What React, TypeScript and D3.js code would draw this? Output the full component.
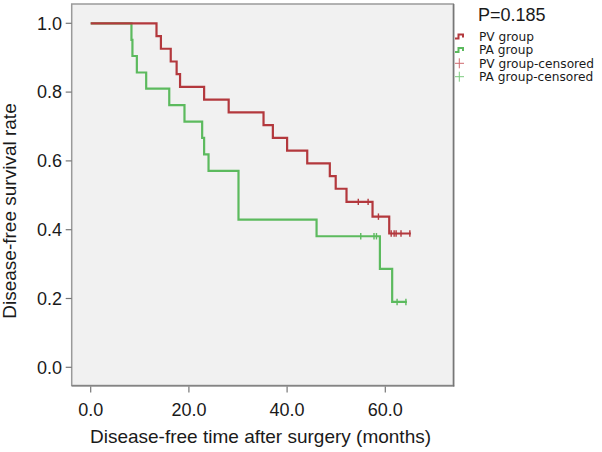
import React from "react";
import * as d3 from "d3";

const pvTimes = [0, 13.4, 14.3, 16.3, 17.5, 18.2, 23.1, 28.1, 35.2, 37.1, 40.0, 44.1, 48.7, 49.9, 52.1, 57.4, 60.8, 65.2];
const pvSurv = [1.0, 0.963, 0.926, 0.889, 0.852, 0.815, 0.778, 0.741, 0.704, 0.667, 0.630, 0.593, 0.556, 0.519, 0.481, 0.438, 0.389, 0.389];
const pvCensorTimes = [54.5, 56.5, 58.6, 61.2, 61.8, 62.2, 63.2, 65.0];
const pvCensorSurv = [0.481, 0.481, 0.438, 0.389, 0.389, 0.389, 0.389, 0.389];

const paTimes = [0, 8.3, 8.5, 9.4, 11.3, 16.0, 19.1, 22.7, 23.1, 24.0, 30.1, 46.0, 58.9, 61.4, 64.4];
const paSurv = [1.0, 0.952, 0.905, 0.857, 0.810, 0.762, 0.714, 0.667, 0.619, 0.571, 0.429, 0.381, 0.286, 0.190, 0.190];
const paCensorTimes = [55.0, 57.7, 58.2, 62.4, 64.2];
const paCensorSurv = [0.381, 0.381, 0.381, 0.190, 0.190];

const xTicks = [0, 20, 40, 60];
const yTicks = [0, 0.2, 0.4, 0.6, 0.8, 1.0];
const legendLabels = ["PV group", "PA group", "PV group-censored", "PA group-censored"];
const pValueLabel = "P=0.185";
const xTitle = "Disease-free time after surgery (months)";
const yTitle = "Disease-free survival rate";

const RED = "#b3383d";
const GREEN = "#5cba5e";
const RED_LIGHT = "#cf6a6e";
const GREEN_LIGHT = "#7ccb7e";
const FONT = "'Liberation Sans', Arial, Helvetica, sans-serif";
const LEGEND_FONT = "'DejaVu Sans', 'Liberation Sans', sans-serif";

export default function App() {
  const W = 602, H = 452;
  const frame = { left: 71.7, right: 453.3, top: 4, bottom: 385.5 };
  const x = d3.scaleLinear().domain([0, 60]).range([90.7, 385.3]);
  const y = d3.scaleLinear().domain([0, 1]).range([367.3, 23.3]);

  const line = d3
    .line<[number, number]>()
    .x((d) => x(d[0]))
    .y((d) => y(d[1]))
    .curve(d3.curveStepAfter);

  const pvPts: [number, number][] = pvTimes.map((t, i) => [t, pvSurv[i]]);
  const paPts: [number, number][] = paTimes.map((t, i) => [t, paSurv[i]]);

  const censor = (times: number[], surv: number[], color: string) =>
    times.map((t, i) => (
      <line key={i} x1={x(t)} x2={x(t)} y1={y(surv[i]) - 3.2} y2={y(surv[i]) + 3.2} stroke={color} strokeWidth={1.4} />
    ));

  const legendX = 455;
  const rows = [36.5, 50, 63.3, 76.7];

  return (
    <svg width={W} height={H} style={{ position: "absolute", left: 0, top: 0, background: "#fff" }} fontFamily={FONT}>
      <rect x={0} y={0} width={W} height={H} fill="#ffffff" />
      <rect
        x={frame.left}
        y={frame.top}
        width={frame.right - frame.left}
        height={frame.bottom - frame.top}
        fill="#f1f1f1"
        stroke="#9a9a9a"
        strokeWidth={1.5}
      />
      <line x1={frame.right + 0.5} x2={frame.right + 0.5} y1={frame.top} y2={frame.bottom + 1} stroke="#6e6e6e" strokeWidth={1.2} />
      <line x1={frame.left} x2={frame.right + 1} y1={frame.bottom + 0.5} y2={frame.bottom + 0.5} stroke="#6e6e6e" strokeWidth={1.2} />

      {yTicks.map((t) => (
        <g key={"y" + t}>
          <line x1={frame.left - 6} x2={frame.left} y1={y(t)} y2={y(t)} stroke="#777" strokeWidth={1.2} />
          <text x={62} y={y(t)} dy="0.35em" textAnchor="end" fontSize={18} fill="#1a1a1a">
            {t.toFixed(1)}
          </text>
        </g>
      ))}
      {xTicks.map((t) => (
        <g key={"x" + t}>
          <line x1={x(t)} x2={x(t)} y1={frame.bottom + 1} y2={frame.bottom + 7} stroke="#777" strokeWidth={1.2} />
          <text x={x(t)} y={415.5} textAnchor="middle" fontSize={18} fill="#1a1a1a">
            {t.toFixed(1)}
          </text>
        </g>
      ))}

      <text x={260.5} y={443} textAnchor="middle" fontSize={19} fill="#1a1a1a">
        {xTitle}
      </text>
      <text transform={`translate(16, 211) rotate(-90)`} textAnchor="middle" fontSize={19} fill="#1a1a1a">
        {yTitle}
      </text>

      <path d={line(paPts) || ""} fill="none" stroke={GREEN} strokeWidth={2.2} />
      <path d={line(pvPts) || ""} fill="none" stroke={RED} strokeWidth={2.2} />
      {censor(paCensorTimes, paCensorSurv, GREEN)}
      {censor(pvCensorTimes, pvCensorSurv, RED)}

      <text x={478} y={20.7} fontSize={18} fill="#1a1a1a">
        {pValueLabel}
      </text>
      <path d={`M${legendX},${rows[0] + 2} H${legendX + 3.5} V${rows[0] - 2} H${legendX + 8} V${rows[0] + 1}`} fill="none" stroke={RED} strokeWidth={2} />
      <path d={`M${legendX},${rows[1] + 2} H${legendX + 3.5} V${rows[1] - 2} H${legendX + 8} V${rows[1] + 1}`} fill="none" stroke={GREEN} strokeWidth={2} />
      <line x1={legendX} x2={legendX + 9} y1={rows[2]} y2={rows[2]} stroke={RED_LIGHT} strokeWidth={1} />
      <line x1={legendX + 4.3} x2={legendX + 4.3} y1={rows[2] - 5} y2={rows[2] + 5} stroke={RED_LIGHT} strokeWidth={1} />
      <line x1={legendX} x2={legendX + 9} y1={rows[3]} y2={rows[3]} stroke={GREEN_LIGHT} strokeWidth={1} />
      <line x1={legendX + 4.3} x2={legendX + 4.3} y1={rows[3] - 5} y2={rows[3] + 5} stroke={GREEN_LIGHT} strokeWidth={1} />
      {legendLabels.map((l, i) => (
        <text key={l} x={479} y={rows[i] + 4.3} fontSize={12.2} fontFamily={LEGEND_FONT} fill="#1a1a1a">
          {l}
        </text>
      ))}
    </svg>
  );
}
